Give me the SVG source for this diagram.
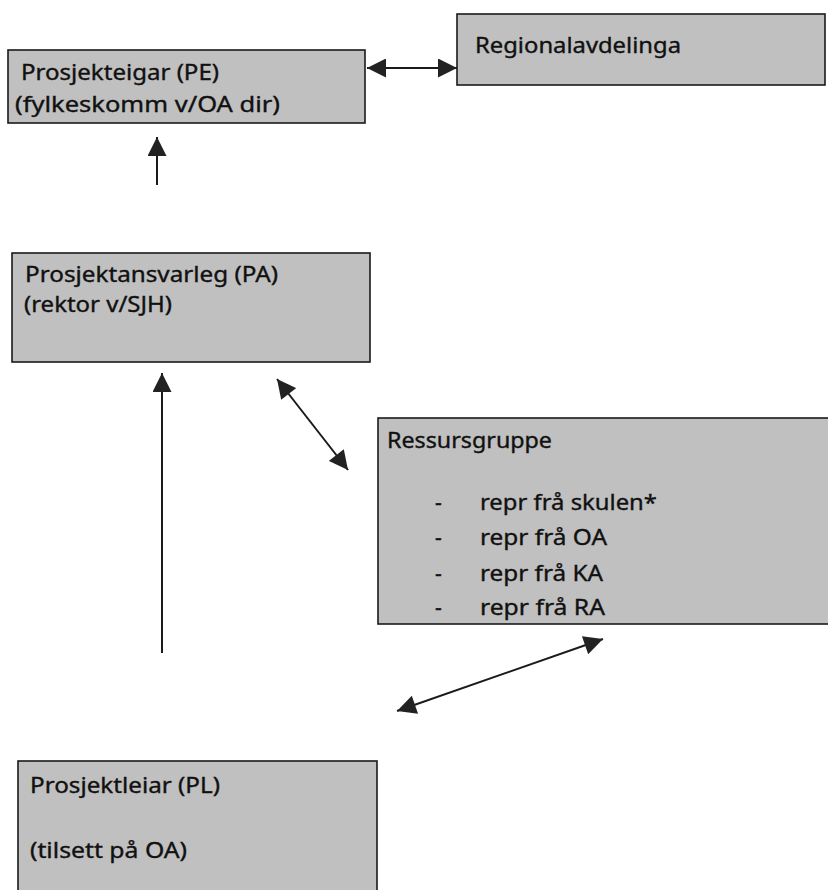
<svg xmlns="http://www.w3.org/2000/svg" width="828" height="890" viewBox="0 0 828 890">
<style>
.box{fill:#c0c0c0;stroke:#1a1a1a;stroke-width:1.6}
.t{font-family:"Noto Sans","Open Sans",sans-serif;font-size:21px;fill:#111;stroke:#111;stroke-width:0.35}
.c{stroke:#1a1a1a;stroke-width:2;fill:none}
</style>
<defs>
<marker id="ah" viewBox="0 0 20 20" refX="20" refY="10" markerWidth="20" markerHeight="19" markerUnits="userSpaceOnUse" orient="auto-start-reverse">
<path d="M0,0 L20,10 L0,20 Z" fill="#222"/>
</marker>
</defs>
<rect width="828" height="890" fill="#fff"/>
<g id="node-pe">
<rect class="box" x="8" y="50" width="357" height="73"/>
<text class="t" x="21" y="80" textLength="198" lengthAdjust="spacingAndGlyphs">Prosjekteigar (PE)</text>
<text class="t" x="15" y="112" textLength="265" lengthAdjust="spacingAndGlyphs">(fylkeskomm v/OA dir)</text>
</g>
<g id="node-ra">
<rect class="box" x="457" y="14" width="368" height="71"/>
<text class="t" x="475" y="53" textLength="206" lengthAdjust="spacingAndGlyphs">Regionalavdelinga</text>
</g>
<g id="node-pa">
<rect class="box" x="12" y="253" width="358" height="109"/>
<text class="t" x="25" y="282" textLength="253" lengthAdjust="spacingAndGlyphs">Prosjektansvarleg (PA)</text>
<text class="t" x="24" y="312" textLength="148" lengthAdjust="spacingAndGlyphs">(rektor v/SJH)</text>
</g>
<g id="node-rg">
<rect class="box" x="378" y="418" width="460" height="206"/>
<text class="t" x="387" y="448" textLength="165" lengthAdjust="spacingAndGlyphs">Ressursgruppe</text>
<text class="t" x="435" y="510">-</text>
<text class="t" x="480" y="510" textLength="177" lengthAdjust="spacingAndGlyphs">repr frå skulen*</text>
<text class="t" x="435" y="545">-</text>
<text class="t" x="480" y="545" textLength="127" lengthAdjust="spacingAndGlyphs">repr frå OA</text>
<text class="t" x="435" y="581">-</text>
<text class="t" x="480" y="581" textLength="123" lengthAdjust="spacingAndGlyphs">repr frå KA</text>
<text class="t" x="435" y="615">-</text>
<text class="t" x="480" y="615" textLength="125" lengthAdjust="spacingAndGlyphs">repr frå RA</text>
</g>
<g id="node-pl">
<rect class="box" x="18" y="761" width="359" height="140"/>
<text class="t" x="30" y="793" textLength="190" lengthAdjust="spacingAndGlyphs">Prosjektleiar (PL)</text>
<text class="t" x="30" y="858" textLength="157" lengthAdjust="spacingAndGlyphs">(tilsett på OA)</text>
</g>
<g id="connectors">
<line class="c" x1="367" y1="68" x2="457" y2="68" marker-start="url(#ah)" marker-end="url(#ah)"/>
<line class="c" x1="157" y1="185" x2="157" y2="137" marker-end="url(#ah)"/>
<line class="c" x1="162" y1="653" x2="162" y2="373" marker-end="url(#ah)"/>
<line class="c" x1="277" y1="379" x2="348" y2="470" marker-start="url(#ah)" marker-end="url(#ah)"/>
<line class="c" x1="397" y1="711" x2="603" y2="639" marker-start="url(#ah)" marker-end="url(#ah)"/>
</g>
</svg>
